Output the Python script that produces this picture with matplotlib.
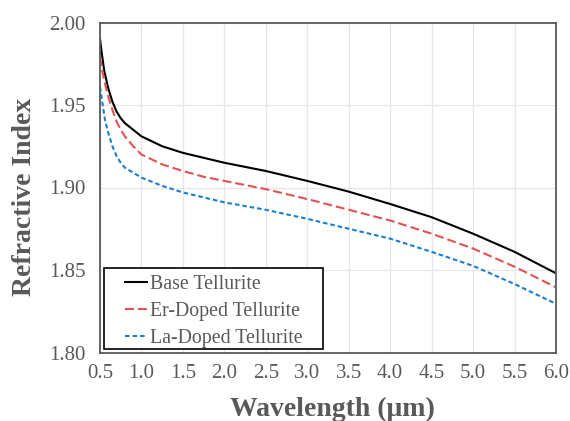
import matplotlib
matplotlib.use("Agg")
import matplotlib.pyplot as plt
from matplotlib.patches import Rectangle

# wavelength (um) and refractive index
wl_base = [0.50, 0.52, 0.55, 0.60, 0.65, 0.70, 0.75, 0.80, 0.90, 1.00, 1.25, 1.50,
           1.75, 2.00, 2.50, 3.00, 3.50, 4.00, 4.50, 5.00, 5.50, 6.00]
n_base = [1.990, 1.982, 1.971, 1.960, 1.952, 1.946, 1.942, 1.939, 1.935, 1.931, 1.925, 1.921,
          1.918, 1.915, 1.910, 1.904, 1.8975, 1.890, 1.882, 1.872, 1.861, 1.848]

wl_er = [0.50, 0.53, 0.56, 0.60, 0.65, 0.70, 0.75, 0.80, 0.90, 1.00, 1.25, 1.50,
         1.75, 2.00, 2.50, 3.00, 3.50, 4.00, 4.50, 5.00, 5.50, 6.00]
n_er = [1.979, 1.970, 1.963, 1.955, 1.947, 1.940, 1.935, 1.931, 1.925, 1.920, 1.914, 1.910,
        1.9065, 1.904, 1.899, 1.893, 1.8865, 1.880, 1.872, 1.863, 1.852, 1.8395]

wl_la = [0.50, 0.53, 0.56, 0.60, 0.65, 0.70, 0.75, 0.80, 0.90, 1.00, 1.25, 1.50,
         1.75, 2.00, 2.50, 3.00, 3.50, 4.00, 4.50, 5.00, 5.50, 6.00]
n_la = [1.961, 1.951, 1.941, 1.933, 1.925, 1.919, 1.915, 1.912, 1.909, 1.906, 1.901, 1.897,
        1.894, 1.891, 1.8865, 1.881, 1.875, 1.869, 1.861, 1.8525, 1.8415, 1.8295]

xticks = [0.5, 1.0, 1.5, 2.0, 2.5, 3.0, 3.5, 4.0, 4.5, 5.0, 5.5, 6.0]
yticks = [1.80, 1.85, 1.90, 1.95, 2.00]

plt.rcParams['font.family'] = ['Liberation Serif', 'DejaVu Serif']
txt = '#595959'

fig = plt.figure(figsize=(5.7, 4.21), dpi=100)
ax = fig.add_axes([100/570, 1 - 352.5/421, 456/570, 330/421])

ax.plot(wl_base, n_base, color='black', lw=1.5, label='Base Tellurite')
ax.plot(wl_er, n_er, color='#E05252', lw=1.5, dashes=(4.3, 1.9), label='Er-Doped Tellurite')
ax.plot(wl_la, n_la, color='#1A7FD0', lw=1.5, dashes=(2.2, 1.4), label='La-Doped Tellurite')

ax.set_xlim(0.5, 6.0)
ax.set_ylim(1.80, 2.00)
ax.set_xticks(xticks)
ax.set_yticks(yticks)
ax.set_xticklabels([f"{v:.1f}" for v in xticks])
ax.set_yticklabels([f"{v:.2f}" for v in yticks])
ax.grid(True, color='#E6E6E6', lw=0.9)
ax.set_axisbelow(True)
ax.tick_params(length=0, labelsize=15, labelcolor=txt)
ax.tick_params(axis='x', pad=8.5)
ax.tick_params(axis='y', pad=10.5)

for s in ax.spines.values():
    s.set_color('#595959')
    s.set_linewidth(1.3)

ax.set_xlabel('Wavelength (μm)', fontsize=20, fontweight='bold', color=txt, labelpad=9.5)
ax.set_ylabel('Refractive Index', fontsize=20, fontweight='bold', color=txt)
ax.xaxis.label.set_x(0.51)
ax.yaxis.set_label_coords(-0.138, 0.471)

# legend box drawn separately (Excel-style wide padding)
ax.add_patch(Rectangle((0.009, 0.0106), 0.480, 0.245, transform=ax.transAxes,
                       facecolor='white', edgecolor='black', lw=1.2, zorder=4.9))
leg = ax.legend(loc='center left', bbox_to_anchor=(0.0548, 0.1242), fontsize=14.3,
                frameon=False, handlelength=1.1, handletextpad=0.15,
                borderaxespad=0, borderpad=0, labelspacing=0.4)
for t in leg.get_texts():
    t.set_color(txt)

fig.savefig('out.png', dpi=100)
